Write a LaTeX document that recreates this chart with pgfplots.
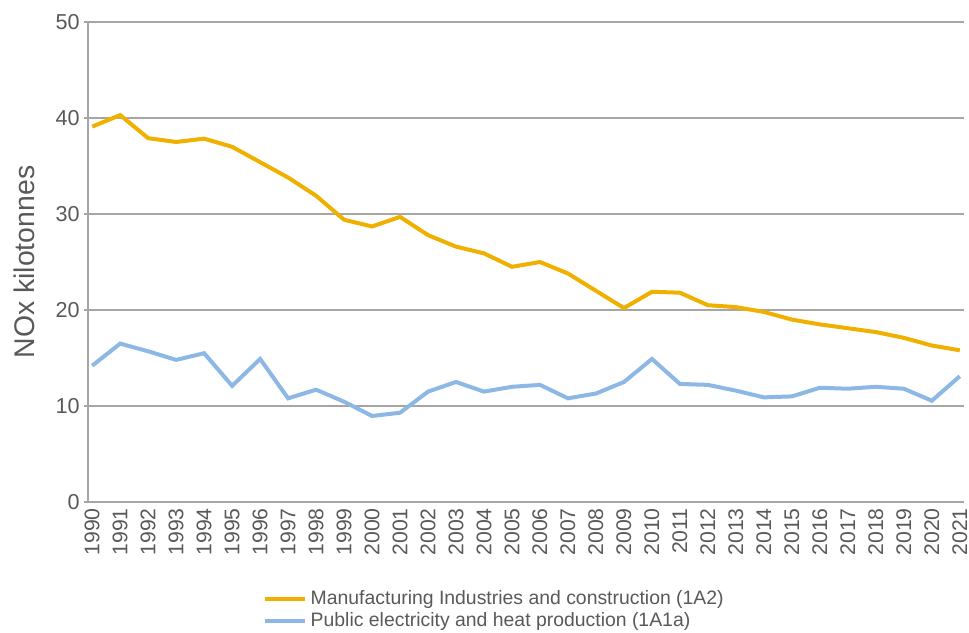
\documentclass[border=0pt]{standalone}
\usepackage{fontspec}
\setmainfont{Liberation Sans}
\usepackage{pgfplots}
\pgfplotsset{compat=1.18}
\definecolor{mfg}{HTML}{F0B000}
\definecolor{pub}{HTML}{8DB8E5}
\definecolor{txt}{HTML}{595959}
\definecolor{grd}{HTML}{A6A6A6}

\begin{document}
\begin{tikzpicture}
\begin{axis}[
    scale only axis,
    width=438pt, height=240pt,
    xmin=1989.85, xmax=2021.15,
    ymin=0, ymax=50,
    axis x line=bottom, axis y line=left,
    axis line style={draw=grd, line width=0.8pt, -},
    xtick={1990,...,2021},
    ytick={0,10,...,50},
    major x tick style={draw=none},
    major y tick style={draw=grd, line width=0.8pt},
    tick align=outside,
    major tick length=2pt,
    ymajorgrids,
    grid style={grd, line width=0.8pt},
    /pgf/number format/.cd, 1000 sep={}, assume math mode=true,
    /pgfplots/.cd,
    xticklabel style={rotate=90, anchor=east, font=\fontsize{10.6}{12}\selectfont, text=txt, inner sep=1pt},
    yticklabel style={font=\fontsize{10.8}{12}\selectfont, text=txt, inner sep=2pt},
    ylabel={NOx kilotonnes},
    ylabel style={font=\fontsize{14.2}{16}\selectfont, text=txt},
    ylabel shift=5pt,
    legend cell align=left,
    legend style={at={(0.199,-0.176)}, anchor=north west, draw=none,
                  font=\fontsize{9.7}{11}\selectfont, text=txt,
                  row sep=-1.8pt, inner sep=0pt},
    legend image code/.code={\draw[#1, line width=2pt] (0pt,0pt) -- (20pt,0pt);},
]
\addplot[mfg, line width=2pt] coordinates {
(1990,39.1)(1991,40.3)(1992,37.9)(1993,37.5)(1994,37.85)(1995,37.0)
(1996,35.4)(1997,33.8)(1998,31.9)(1999,29.4)(2000,28.7)(2001,29.7)
(2002,27.8)(2003,26.6)(2004,25.9)(2005,24.5)(2006,25.0)(2007,23.8)
(2008,22.0)(2009,20.2)(2010,21.9)(2011,21.8)(2012,20.5)(2013,20.3)
(2014,19.8)(2015,19.0)(2016,18.5)(2017,18.1)(2018,17.7)(2019,17.1)
(2020,16.3)(2021,15.8)};
\addplot[pub, line width=2pt] coordinates {
(1990,14.2)(1991,16.5)(1992,15.7)(1993,14.8)(1994,15.5)(1995,12.1)
(1996,14.9)(1997,10.8)(1998,11.7)(1999,10.45)(2000,8.96)(2001,9.3)
(2002,11.5)(2003,12.5)(2004,11.5)(2005,12.0)(2006,12.2)(2007,10.8)
(2008,11.3)(2009,12.5)(2010,14.9)(2011,12.3)(2012,12.2)(2013,11.6)
(2014,10.9)(2015,11.0)(2016,11.9)(2017,11.8)(2018,12.0)(2019,11.8)
(2020,10.55)(2021,13.1)};
\legend{Manufacturing Industries and construction (1A2),
        Public electricity and heat production (1A1a)}
\end{axis}
\pgfresetboundingbox
\path ([xshift=-44pt,yshift=-65pt]current axis.south west) rectangle ([xshift=2.5pt,yshift=11pt]current axis.north east);
\end{tikzpicture}
\end{document}
